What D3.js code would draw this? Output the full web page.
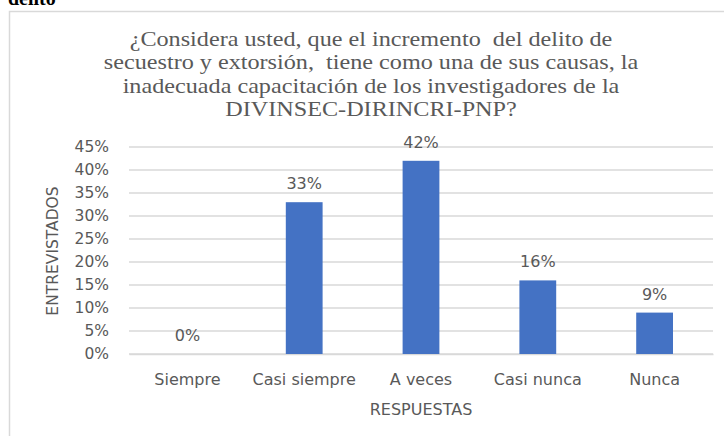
<!DOCTYPE html>
<html>
<head>
<meta charset="utf-8">
<script src="https://cdn.jsdelivr.net/npm/d3@7"></script>
<style>
  body { margin: 0; background: #fff; }
  svg { display: block; }
</style>
</head>
<body>
<div id="chart"></div>
<script>
// chart data
var categories = ["Siempre", "Casi siempre", "A veces", "Casi nunca", "Nunca"];
var values = [0, 33, 42, 16, 9];
var yTicks = [0, 5, 10, 15, 20, 25, 30, 35, 40, 45];
var titleLines = [
    "¿Considera usted, que el incremento  del delito de",
    "secuestro y extorsión,  tiene como una de sus causas, la",
    "inadecuada capacitación de los investigadores de la",
    "DIVINSEC-DIRINCRI-PNP?"
];

var w = 724, h = 436;
var plotLeft = 129, plotRight = 713, plotTop = 147, plotBottom = 354;
var textColor = "#595959";

var svg = d3.select("#chart").append("svg")
    .attr("width", w)
    .attr("height", h);

// leftover text of the page above the chart (cut off)
svg.append("text")
    .attr("x", 8).attr("y", 5)
    .attr("font-family", "Liberation Serif")
    .attr("font-weight", "bold")
    .attr("font-size", 20)
    .attr("fill", "#000")
    .text("delito");

// chart frame
svg.append("path")
    .attr("d", "M9.5," + (h + 2) + "V11.5H" + (w + 2))
    .attr("fill", "none")
    .attr("stroke", "#d9d9d9")
    .attr("stroke-width", 1.5);

// title (the original is stretched a bit wide)
svg.append("g")
    .attr("transform", "translate(371,0) scale(1.18,1)")
    .append("text")
    .attr("text-anchor", "middle")
    .attr("font-family", "Liberation Serif")
    .attr("font-size", 20.5)
    .attr("fill", textColor)
    .style("white-space", "pre")
    .selectAll("tspan")
    .data(titleLines)
    .join("tspan")
    .attr("x", 0)
    .attr("y", function (d, i) { return 46 + i * 23.3; })
    .text(function (d) { return d; });

var xScale = d3.scaleBand()
    .domain(categories)
    .range([plotLeft, plotRight]);

var yScale = d3.scaleLinear()
    .domain([0, 45])
    .range([plotBottom, plotTop]);

// gridlines
svg.append("g")
    .selectAll("line")
    .data(yTicks)
    .join("line")
    .attr("x1", plotLeft).attr("x2", plotRight)
    .attr("y1", function (d) { return yScale(d); })
    .attr("y2", function (d) { return yScale(d); })
    .attr("stroke", "#d9d9d9")
    .attr("stroke-width", 1.5);

// y axis labels
var yAxis = d3.axisLeft(yScale)
    .tickValues(yTicks)
    .tickSize(0)
    .tickPadding(20)
    .tickFormat(function (d) { return d + "%"; });

var gy = svg.append("g")
    .attr("transform", "translate(" + plotLeft + ",0)")
    .call(yAxis);
gy.select(".domain").remove();
gy.selectAll("text")
    .attr("font-family", "DejaVu Sans")
    .attr("font-size", 15.5)
    .attr("fill", textColor);

// x axis labels
var xAxis = d3.axisBottom(xScale).tickSize(0).tickPadding(20);
var gx = svg.append("g")
    .attr("transform", "translate(0," + plotBottom + ")")
    .call(xAxis);
gx.select(".domain").attr("stroke", "#d9d9d9").attr("stroke-width", 1.5);
gx.selectAll("text")
    .attr("font-family", "DejaVu Sans")
    .attr("font-size", 16)
    .attr("fill", textColor);

// bars
var barW = xScale.bandwidth() * 0.315;
svg.append("g")
    .selectAll("rect")
    .data(values)
    .join("rect")
    .attr("x", function (d, i) { return xScale(categories[i]) + (xScale.bandwidth() - barW) / 2; })
    .attr("y", function (d) { return yScale(d); })
    .attr("width", barW)
    .attr("height", function (d) { return plotBottom - yScale(d); })
    .attr("fill", "#4472c4");

// data labels
svg.append("g")
    .selectAll("text")
    .data(values)
    .join("text")
    .attr("x", function (d, i) { return xScale(categories[i]) + xScale.bandwidth() / 2; })
    .attr("y", function (d) { return yScale(d) - 13; })
    .attr("text-anchor", "middle")
    .attr("font-family", "DejaVu Sans")
    .attr("font-size", 16)
    .attr("fill", textColor)
    .text(function (d) { return d + "%"; });

// axis titles
svg.append("text")
    .attr("transform", "translate(58,251) rotate(-90)")
    .attr("text-anchor", "middle")
    .attr("font-family", "DejaVu Sans")
    .attr("font-size", 15.5)
    .attr("fill", textColor)
    .text("ENTREVISTADOS");

svg.append("text")
    .attr("x", 421).attr("y", 415)
    .attr("text-anchor", "middle")
    .attr("font-family", "DejaVu Sans")
    .attr("font-size", 16)
    .attr("fill", textColor)
    .text("RESPUESTAS");
</script>
</body>
</html>
